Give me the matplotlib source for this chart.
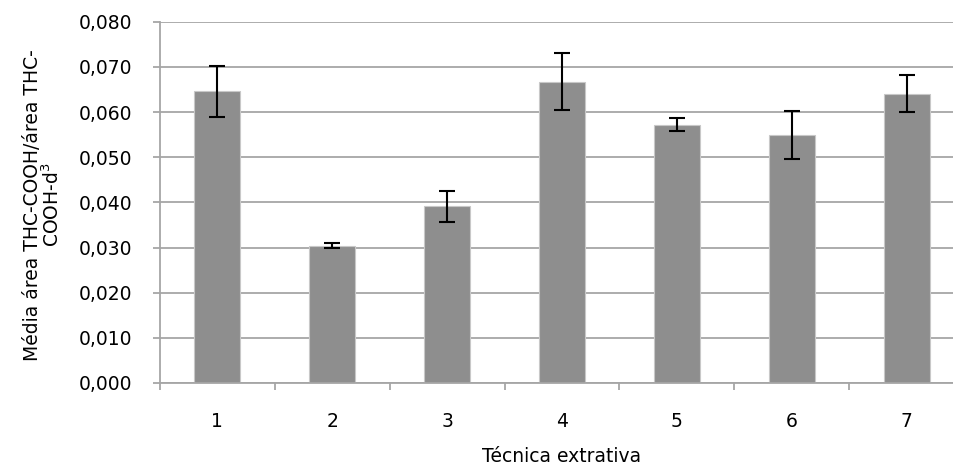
import matplotlib
matplotlib.use("Agg")
import matplotlib.pyplot as plt
import numpy as np

categories = ["1", "2", "3", "4", "5", "6", "7"]
means = [0.0646, 0.0304, 0.0391, 0.0667, 0.0572, 0.0550, 0.0641]
errors = [0.0056, 0.0006, 0.0035, 0.0063, 0.0014, 0.0053, 0.0040]
yticks = [0.000, 0.010, 0.020, 0.030, 0.040, 0.050, 0.060, 0.070, 0.080]
ytick_labels = ["0,000", "0,010", "0,020", "0,030", "0,040", "0,050", "0,060", "0,070", "0,080"]

plt.rcParams['font.family'] = ['DejaVu Sans']
fs = 13.5

fig = plt.figure(figsize=(9.54, 4.68), dpi=100)
W, H = 954, 468
left, right, top, bottom = 160, 964, 21.7, 383
ax = fig.add_axes([left / W, 1 - bottom / H, (right - left) / W, (bottom - top) / H])

x = np.arange(1, len(categories) + 1)
ax.bar(x, means, width=0.4, color="#8e8e8e", edgecolor="#c8c8c8", linewidth=0.8, zorder=2)
ax.errorbar(x, means, yerr=errors, fmt="none", ecolor="black", elinewidth=1.5,
            capsize=5.8, capthick=1.5, zorder=3)

ax.set_ylim(0, 0.08)
ax.set_xlim(0.5, len(categories) + 0.5)
ax.set_yticks(yticks)
ax.set_yticklabels(ytick_labels, fontsize=fs)
ax.yaxis.grid(True, color="#a6a6a6", linewidth=1.3, zorder=0)
ax.set_axisbelow(True)

ax.set_xticks(np.arange(0.5, len(categories) + 1, 1.0))
ax.set_xticklabels([])
ax.set_xticks(x, minor=True)
ax.set_xticklabels(categories, minor=True, fontsize=fs)
ax.tick_params(axis="x", which="minor", length=0, pad=21)
ax.tick_params(axis="x", which="major", length=5, width=1.3, color="#a6a6a6", direction="out")
ax.tick_params(axis="y", length=5, width=1.3, color="#a6a6a6", pad=15)

for s in ["top", "right"]:
    ax.spines[s].set_visible(False)
for s in ["left", "bottom"]:
    ax.spines[s].set_color("#a6a6a6")
    ax.spines[s].set_linewidth(1.3)

fig.text(43 / W, 1 - 205 / H, "Média área THC-COOH/área THC-\nCOOH-d$^3$", rotation=90,
         ha="center", va="center", multialignment="center", fontsize=fs, linespacing=1.0)
fig.text(562 / W, 1 - 457 / H, "Técnica extrativa", ha="center", va="center", fontsize=fs)

fig.savefig("out.png", dpi=100)
